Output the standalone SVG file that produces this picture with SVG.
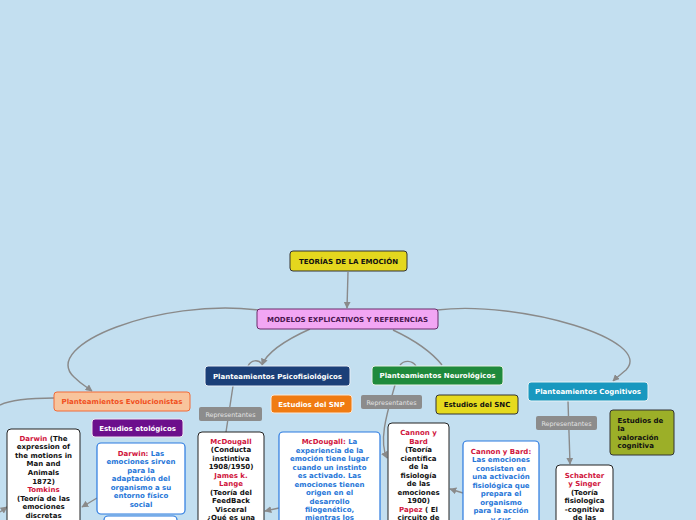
<svg xmlns="http://www.w3.org/2000/svg" width="696" height="520" viewBox="0 0 696 520">
<defs>
<marker id="ah" viewBox="0 0 10 10" refX="9" refY="5" markerWidth="7" markerHeight="7" orient="auto" markerUnits="userSpaceOnUse">
<path d="M0,0 L10,5 L0,10 z" fill="#8a8a8a"/>
</marker>
<style>
text{font-family:"DejaVu Sans","Verdana",sans-serif;font-weight:bold;font-size:7px;text-anchor:middle}
.c{fill:none;stroke:#8a8a8a;stroke-width:1.4}
.w{fill:#fff;stroke:#222;stroke-width:1}
.b{fill:#fff;stroke:#2a7ae0;stroke-width:1.2}
.r{fill:#8c8c8c}
.rt{fill:#e2e2e2;font-weight:normal;font-size:6.4px}
.red{fill:#d0143c}
.blk{fill:#111}
.blu{fill:#2676d8}
.wt{fill:#fff}
</style>
</defs>
<rect width="696" height="520" fill="#c3dff0"/>

<g id="connectors">
<path class="c" d="M348,272 L347,308" marker-end="url(#ah)"/>
<path class="c" d="M258,310 C160,298 40,345 74,377 C82,385 88,388 92,391" marker-end="url(#ah)"/>
<path class="c" d="M310,329 C290,338 268,350 262,365" marker-end="url(#ah)"/>
<path class="c" d="M248,366 C251,360 258,359 262,364"/>
<path class="c" d="M393,330 C410,338 430,350 442,365"/>
<path class="c" d="M400,365 C404,360 412,360 416,366"/>
<path class="c" d="M437,310 C520,300 655,340 626,370 C620,375 616,378 613,381" marker-end="url(#ah)"/>
<path class="c" d="M54,398 C30,398 10,400 0,405"/>
<path class="c" d="M233,386 L226,432"/>
<path class="c" d="M395,385 C388,410 378,440 387,458" marker-end="url(#ah)"/>
<path class="c" d="M568,401 L570,464" marker-end="url(#ah)"/>
<path class="c" d="M97,498 L82,507" marker-end="url(#ah)"/>
<path class="c" d="M0,512 L7,507" marker-end="url(#ah)"/>
<path class="c" d="M279,508 L265,511" marker-end="url(#ah)"/>
<path class="c" d="M463,493 L450,489" marker-end="url(#ah)"/>
</g>

<g id="teorias">
<rect x="290" y="251" width="117" height="20" rx="3" fill="#e4d71e" stroke="#333"/>
<text x="348.5" y="263.5" class="blk">TEORÍAS DE LA EMOCIÓN</text>
</g>
<g id="modelos">
<rect x="257" y="309" width="181" height="20" rx="3" fill="#f2a6f4" stroke="#6a2a6a"/>
<text x="347.5" y="321.5" fill="#4b1650">MODELOS EXPLICATIVOS Y REFERENCIAS</text>
</g>
<g id="psico">
<rect x="205" y="366" width="145" height="20" rx="3" fill="#1b3f78" stroke="#e8eef5"/>
<text x="277.5" y="378.5" class="wt">Planteamientos Psicofisiológicos</text>
</g>
<g id="neuro">
<rect x="372" y="366" width="131" height="19" rx="3" fill="#1f8a3c" stroke="#e8f0e8"/>
<text x="437.5" y="378" class="wt">Planteamientos Neurológicos</text>
</g>
<g id="cogn">
<rect x="528" y="382" width="120" height="19" rx="3" fill="#1998bf" stroke="#e8f2f5"/>
<text x="588" y="394" class="wt">Planteamientos Cognitivos</text>
</g>
<g id="evol">
<rect x="54" y="392" width="136" height="19" rx="3" fill="#f8c49c" stroke="#f26a36"/>
<text x="122" y="404" fill="#f0501e">Planteamientos Evolucionistas</text>
</g>
<g id="etologicos">
<rect x="92" y="419" width="91" height="18" rx="3" fill="#6c0f8c" stroke="#efe6f2"/>
<text x="137.5" y="430.5" class="wt">Estudios etológicos</text>
</g>
<g id="snp">
<rect x="271" y="395" width="81" height="18" rx="3" fill="#f07b12" stroke="#f8e8d8"/>
<text x="311.5" y="406.5" class="wt">Estudios del SNP</text>
</g>
<g id="snc">
<rect x="436" y="395" width="82" height="19" rx="3" fill="#e6da1e" stroke="#333"/>
<text x="477" y="407" class="blk">Estudios del SNC</text>
</g>
<g id="valoracion">
<rect x="610" y="410" width="64" height="45" rx="3" fill="#9caf28" stroke="#333"/>
<text x="617.5" y="422.5" class="blk" style="text-anchor:start">Estudios de</text>
<text x="617.5" y="431" class="blk" style="text-anchor:start">la</text>
<text x="617.5" y="439.5" class="blk" style="text-anchor:start">valoración</text>
<text x="617.5" y="448" class="blk" style="text-anchor:start">cognitiva</text>
</g>

<g id="rep1">
<rect x="199" y="407" width="63" height="14" rx="2" class="r"/>
<text x="230.5" y="416.5" class="rt">Representantes</text>
</g>
<g id="rep2">
<rect x="361" y="395" width="61" height="14" rx="2" class="r"/>
<text x="391.5" y="404.5" class="rt">Representantes</text>
</g>
<g id="rep3">
<rect x="536" y="416" width="61" height="14" rx="2" class="r"/>
<text x="566.5" y="425.5" class="rt">Representantes</text>
</g>

<g id="darwin">
<rect x="7" y="429" width="73" height="100" rx="4" class="w"/>
<text x="43.5" y="440.5"><tspan class="red">Darwin</tspan><tspan class="blk"> (The</tspan></text>
<text x="43.5" y="449" class="blk">expression of</text>
<text x="43.5" y="457.5" class="blk">the motions in</text>
<text x="43.5" y="466" class="blk">Man and</text>
<text x="43.5" y="474.5" class="blk">Animals</text>
<text x="43.5" y="483.5" class="blk">1872)</text>
<text x="43.5" y="492" class="red">Tomkins</text>
<text x="43.5" y="500.5" class="blk">(Teoría de las</text>
<text x="43.5" y="509" class="blk">emociones</text>
<text x="43.5" y="517.5" class="blk">discretas</text>
</g>
<g id="darwin-blue">
<rect x="97" y="443" width="88" height="71" rx="4" class="b"/>
<text x="141" y="455.5"><tspan class="red">Darwin:</tspan><tspan class="blu"> Las</tspan></text>
<text x="141" y="464" class="blu">emociones sirven</text>
<text x="141" y="472.5" class="blu">para la</text>
<text x="141" y="481" class="blu">adaptación del</text>
<text x="141" y="489.5" class="blu">organismo a su</text>
<text x="141" y="498" class="blu">entorno físico</text>
<text x="141" y="506.5" class="blu">social</text>
</g>
<g id="blue-below">
<rect x="104" y="516" width="73" height="20" rx="4" class="b"/>
</g>
<g id="mcdougall">
<rect x="198" y="432" width="66" height="100" rx="4" class="w"/>
<text x="231" y="443.5" class="red">McDougall</text>
<text x="231" y="452" class="blk">(Conducta</text>
<text x="231" y="460.5" class="blk">instintiva</text>
<text x="231" y="469" class="blk">1908/1950)</text>
<text x="231" y="477.5" class="red">James k.</text>
<text x="231" y="486" class="red">Lange</text>
<text x="231" y="494.5" class="blk">(Teoría del</text>
<text x="231" y="503" class="blk">FeedBack</text>
<text x="231" y="511.5" class="blk">Visceral</text>
<text x="231" y="519.5" class="blk">¿Qué es una</text>
</g>
<g id="mcdougall-blue">
<rect x="279" y="432" width="101" height="100" rx="4" class="b"/>
<text x="329.5" y="444"><tspan class="red">McDougall:</tspan><tspan class="blu"> La</tspan></text>
<text x="329.5" y="452.5" class="blu">experiencia de la</text>
<text x="329.5" y="461" class="blu">emoción tiene lugar</text>
<text x="329.5" y="469.5" class="blu">cuando un instinto</text>
<text x="329.5" y="478" class="blu">es activado. Las</text>
<text x="329.5" y="486.5" class="blu">emociones tienen</text>
<text x="329.5" y="495" class="blu">origen en el</text>
<text x="329.5" y="503.5" class="blu">desarrollo</text>
<text x="329.5" y="512" class="blu">filogenético,</text>
<text x="329.5" y="520" class="blu">mientras los</text>
</g>
<g id="cannon">
<rect x="388" y="423" width="61" height="110" rx="4" class="w"/>
<text x="418.5" y="435" class="red">Cannon y</text>
<text x="418.5" y="443.5" class="red">Bard</text>
<text x="418.5" y="452" class="blk">(Teoría</text>
<text x="418.5" y="460.5" class="blk">científica</text>
<text x="418.5" y="469" class="blk">de la</text>
<text x="418.5" y="477.5" class="blk">fisiología</text>
<text x="418.5" y="486" class="blk">de las</text>
<text x="418.5" y="494.5" class="blk">emociones</text>
<text x="418.5" y="503" class="blk">1900)</text>
<text x="418.5" y="511.5"><tspan class="red">Papez</tspan><tspan class="blk"> ( El</tspan></text>
<text x="418.5" y="519.5" class="blk">circuito de</text>
</g>
<g id="cannon-blue">
<rect x="463" y="441" width="76" height="100" rx="4" class="b"/>
<text x="501" y="453.5" class="red">Cannon y Bard:</text>
<text x="501" y="462" class="blu">Las emociones</text>
<text x="501" y="470.5" class="blu">consisten en</text>
<text x="501" y="479" class="blu">una activación</text>
<text x="501" y="487.5" class="blu">fisiológica que</text>
<text x="501" y="496" class="blu">prepara el</text>
<text x="501" y="504.5" class="blu">organismo</text>
<text x="501" y="513" class="blu">para la acción</text>
<text x="501" y="521.5" class="blu">y sus</text>
</g>
<g id="schachter">
<rect x="556" y="465" width="57" height="70" rx="4" class="w"/>
<text x="584.5" y="477.5" class="red">Schachter</text>
<text x="584.5" y="486" class="red">y Singer</text>
<text x="584.5" y="494.5" class="blk">(Teoría</text>
<text x="584.5" y="503" class="blk">fisiologica</text>
<text x="584.5" y="511.5" class="blk">-cognitiva</text>
<text x="584.5" y="519.5" class="blk">de las</text>
</g>
</svg>
